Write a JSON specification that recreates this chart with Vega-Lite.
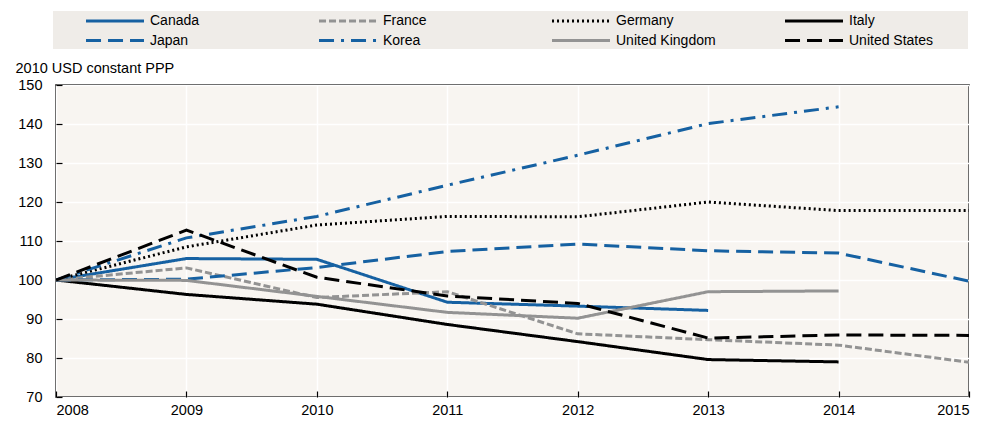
{
  "$schema": "https://vega.github.io/schema/vega-lite/v6.json",
  "width": 913,
  "height": 312,
  "autosize": {"type": "none"},
  "padding": {"left": 56, "top": 85, "right": 31, "bottom": 46},
  "background": "#ffffff",
  "config": {
    "font": "Liberation Sans",
    "view": {"fill": "#f8f5f1", "stroke": "#000000", "strokeWidth": 1.5},
    "axis": {"labelFont": "Liberation Sans", "labelFontSize": 14.5, "labelColor": "#000000", "titleFont": "Liberation Sans", "titleFontSize": 14.5, "titleColor": "#000000", "titleFontWeight": "normal", "gridColor": "#ffffff", "gridWidth": 1.5, "gridOpacity": 1, "domain": false, "tickColor": "#000000", "tickWidth": 1.2}
  },
  "data": {"values": [
    {"country": "Canada", "year": 2008, "value": 100},
    {"country": "Canada", "year": 2009, "value": 105.5},
    {"country": "Canada", "year": 2010, "value": 105.3},
    {"country": "Canada", "year": 2011, "value": 94.3},
    {"country": "Canada", "year": 2012, "value": 93.3},
    {"country": "Canada", "year": 2013, "value": 92.2},
    {"country": "France", "year": 2008, "value": 100},
    {"country": "France", "year": 2009, "value": 103.1},
    {"country": "France", "year": 2010, "value": 95.5},
    {"country": "France", "year": 2011, "value": 97.0},
    {"country": "France", "year": 2012, "value": 86.2},
    {"country": "France", "year": 2013, "value": 84.7},
    {"country": "France", "year": 2014, "value": 83.3},
    {"country": "France", "year": 2015, "value": 78.9},
    {"country": "Germany", "year": 2008, "value": 100},
    {"country": "Germany", "year": 2009, "value": 108.5},
    {"country": "Germany", "year": 2010, "value": 114.1},
    {"country": "Germany", "year": 2011, "value": 116.3},
    {"country": "Germany", "year": 2012, "value": 116.2},
    {"country": "Germany", "year": 2013, "value": 120.0},
    {"country": "Germany", "year": 2014, "value": 117.8},
    {"country": "Germany", "year": 2015, "value": 117.8},
    {"country": "Italy", "year": 2008, "value": 100},
    {"country": "Italy", "year": 2009, "value": 96.3},
    {"country": "Italy", "year": 2010, "value": 93.8},
    {"country": "Italy", "year": 2011, "value": 88.6},
    {"country": "Italy", "year": 2012, "value": 84.2},
    {"country": "Italy", "year": 2013, "value": 79.6},
    {"country": "Italy", "year": 2014, "value": 79.0},
    {"country": "Japan", "year": 2008, "value": 100},
    {"country": "Japan", "year": 2009, "value": 100.2},
    {"country": "Japan", "year": 2010, "value": 103.2},
    {"country": "Japan", "year": 2011, "value": 107.3},
    {"country": "Japan", "year": 2012, "value": 109.2},
    {"country": "Japan", "year": 2013, "value": 107.5},
    {"country": "Japan", "year": 2014, "value": 106.9},
    {"country": "Japan", "year": 2015, "value": 99.7},
    {"country": "Korea", "year": 2008, "value": 100},
    {"country": "Korea", "year": 2009, "value": 110.8},
    {"country": "Korea", "year": 2010, "value": 116.3},
    {"country": "Korea", "year": 2011, "value": 124.3},
    {"country": "Korea", "year": 2012, "value": 132.0},
    {"country": "Korea", "year": 2013, "value": 140.1},
    {"country": "Korea", "year": 2014, "value": 144.4},
    {"country": "United Kingdom", "year": 2008, "value": 100},
    {"country": "United Kingdom", "year": 2009, "value": 99.9},
    {"country": "United Kingdom", "year": 2010, "value": 95.8},
    {"country": "United Kingdom", "year": 2011, "value": 91.7},
    {"country": "United Kingdom", "year": 2012, "value": 90.2},
    {"country": "United Kingdom", "year": 2013, "value": 97.0},
    {"country": "United Kingdom", "year": 2014, "value": 97.2},
    {"country": "United States", "year": 2008, "value": 100},
    {"country": "United States", "year": 2009, "value": 112.8},
    {"country": "United States", "year": 2010, "value": 100.7},
    {"country": "United States", "year": 2011, "value": 95.9},
    {"country": "United States", "year": 2012, "value": 94.0},
    {"country": "United States", "year": 2013, "value": 85.1},
    {"country": "United States", "year": 2014, "value": 85.9},
    {"country": "United States", "year": 2015, "value": 85.8}
  ]},
  "mark": {"type": "line", "strokeWidth": 3, "clip": true},
  "encoding": {
    "x": {"field": "year", "type": "quantitative", "scale": {"domain": [2008, 2015], "nice": false, "zero": false},
      "axis": {"title": null, "values": [2008, 2009, 2010, 2011, 2012, 2013, 2014, 2015], "format": "d", "tickSize": -6, "labelPadding": 12, "grid": true}},
    "y": {"field": "value", "type": "quantitative", "scale": {"domain": [70, 150], "nice": false, "zero": false},
      "axis": {"title": "2010 USD constant PPP", "titleAngle": 0, "titleAlign": "left", "titleBaseline": "alphabetic", "titleX": -41, "titleY": -13, "values": [70, 80, 90, 100, 110, 120, 130, 140, 150], "tickSize": -6, "labelPadding": 20, "grid": true}},
    "color": {"field": "country", "type": "nominal",
      "scale": {"domain": ["Canada", "France", "Germany", "Italy", "Japan", "Korea", "United Kingdom", "United States"],
        "range": ["#1661a2", "#939393", "#000000", "#000000", "#1661a2", "#1661a2", "#939393", "#000000"]},
      "legend": {"orient": "none", "legendX": -3, "legendY": -74, "columns": 4, "direction": "horizontal", "gridAlign": "all",
        "title": " ", "titleOrient": "left", "titleFontSize": 2, "titlePadding": 30,
        "fillColor": "#efece8", "padding": 1, "columnPadding": 45, "rowPadding": 3.5,
        "symbolType": "M-4,0H4M20.15,0", "symbolSize": 210, "symbolOffset": 22, "symbolStrokeWidth": 3, "labelFontSize": 14, "labelOffset": 26, "labelFont": "Liberation Sans", "labelColor": "#000000"}},
    "strokeDash": {"field": "country", "type": "nominal",
      "scale": {"domain": ["Canada", "France", "Germany", "Italy", "Japan", "Korea", "United Kingdom", "United States"],
        "range": [[1, 0], [7, 3], [2, 3], [1, 0], [15, 7], [15, 7, 3, 7], [1, 0], [15, 7]]}}
  }
}
